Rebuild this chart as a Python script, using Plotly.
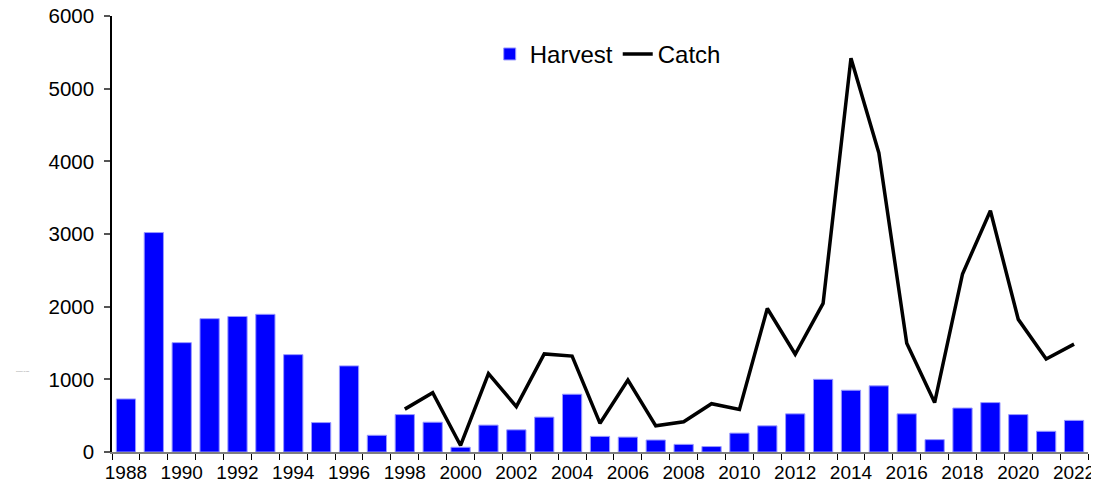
import plotly.graph_objects as go

years = list(range(1988, 2023))
harvest = [730, 3020, 1505, 1835, 1865, 1895, 1340, 405, 1185, 230,
           515, 410, 65, 370, 305, 480, 795, 215, 205, 165,
           105, 75, 260, 360, 525, 1000, 850, 910, 525, 170,
           605, 680, 515, 285, 435]
catch_years = list(range(1998, 2023))
catch = [590, 815, 90, 1080, 625, 1350, 1320, 395, 990, 360,
         415, 665, 585, 1975, 1345, 2045, 5420, 4115, 1495, 680,
         2450, 3320, 1825, 1280, 1485]
tick_years = list(range(1988, 2023, 2))

fig = go.Figure()
fig.add_trace(go.Bar(
    x=years, y=harvest, name="Harvest", width=0.69,
    marker=dict(color="#0000FF", line=dict(color="#9999FF", width=1)),
))
fig.add_trace(go.Scatter(
    x=catch_years, y=catch, name="Catch", mode="lines",
    line=dict(color="black", width=3.5),
))

# page body has an 8px margin, so the figure is sized/offset to compensate
fig.update_layout(
    width=1091, height=476,
    margin=dict(l=104, r=11, t=8, b=32),
    plot_bgcolor="white", paper_bgcolor="white",
    font=dict(family="Liberation Sans, Arial, sans-serif", color="black"),
    showlegend=True,
    legend=dict(orientation="h", x=0.387, y=0.912, xanchor="left", yanchor="middle",
                font=dict(size=24), bgcolor="rgba(0,0,0,0)",
                itemwidth=30, tracegroupgap=0),
    bargap=0.31,
)
fig.update_xaxes(
    range=[1987.5, 2022.5], automargin=False, ticklabeloverflow="allow",
    tickmode="array", tickvals=tick_years, ticktext=[str(y) for y in tick_years],
    ticks="", tickfont=dict(size=19), ticklabelstandoff=2,
    showline=True, linecolor="#808080", linewidth=1.5,
    showgrid=False, zeroline=False,
    minor=dict(tick0=1987.5, dtick=1, ticks="outside", ticklen=6,
               tickcolor="black", tickwidth=1.2, showgrid=False),
)
fig.update_yaxes(
    range=[0, 6000], automargin=False, ticklabeloverflow="allow",
    tickmode="array", tickvals=list(range(0, 6001, 1000)),
    ticks="outside", ticklen=6, tickcolor="#555555", tickwidth=1.5,
    tickfont=dict(size=20.5), ticklabelstandoff=6,
    showline=True, linecolor="black", linewidth=1.5,
    showgrid=False, zeroline=False,
)
fig.add_annotation(
    text="Number of fish", xref="paper", yref="paper",
    x=(22 - 112) / 976, y=(452 - 371) / 436,
    xanchor="center", yanchor="middle",
    showarrow=False, font=dict(size=2, color="#888888"),
)

fig.write_html("out.html")
